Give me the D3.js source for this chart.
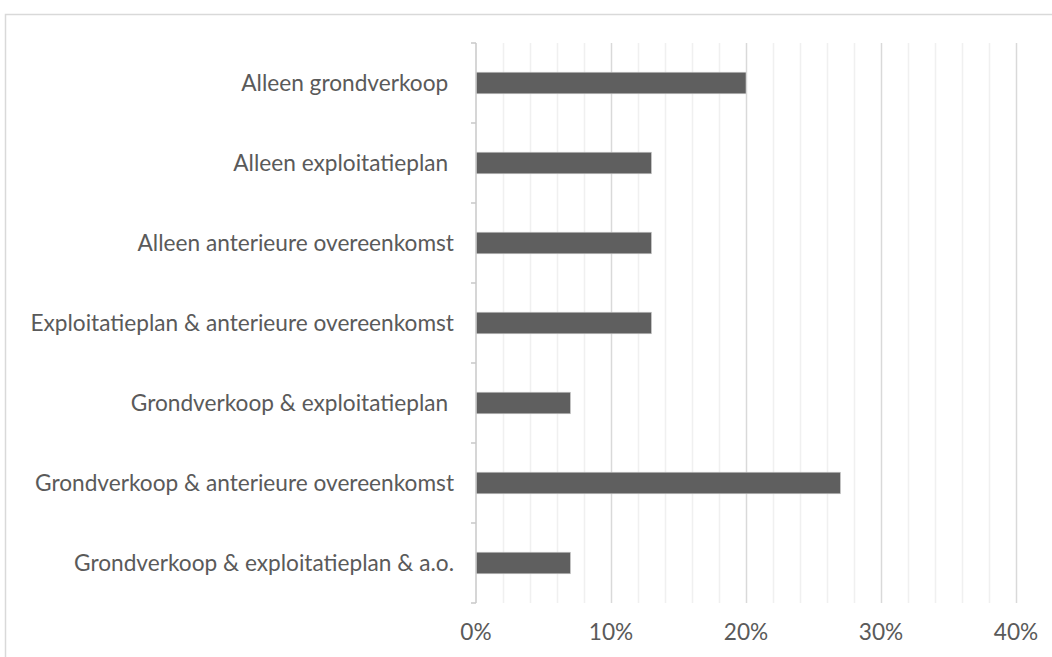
<!DOCTYPE html>
<html>
<head>
<meta charset="utf-8">
<script src="https://cdn.jsdelivr.net/npm/d3@7"></script>
<style>
  html, body { margin: 0; padding: 0; background: #fff; }
  svg { display: block; }
  text { font-family: Lato, "Open Sans", "DejaVu Sans", sans-serif; fill: #5a5a5a; white-space: pre; }
</style>
</head>
<body>
<svg id="chart" width="1052" height="657"></svg>
<script>
// Instrument combinations (top to bottom) and their share of cases
const categories = [
  "Alleen grondverkoop ",
  "Alleen exploitatieplan ",
  "Alleen anterieure overeenkomst",
  "Exploitatieplan & anterieure overeenkomst",
  "Grondverkoop & exploitatieplan ",
  "Grondverkoop & anterieure overeenkomst",
  "Grondverkoop & exploitatieplan & a.o."
];
const values = [0.20, 0.13, 0.13, 0.13, 0.07, 0.27, 0.07];
const majorTicks = [0, 0.1, 0.2, 0.3, 0.4];
const minorTicks = d3.range(0, 41, 2).map(d => d / 100);

const svg = d3.select("#chart");
const margin = { left: 476, right: 36, top: 43, bottom: 54 };
const W = 1052, H = 657;

// Chart frame (only top and left edges fall inside the page)
svg.append("path")
  .attr("d", `M5.5,${H} V14.5 H${W}`)
  .attr("fill", "none")
  .attr("stroke", "#d9d9d9")
  .attr("stroke-width", 1.5);

const x = d3.scaleLinear().domain([0, 0.4]).range([margin.left, W - margin.right]);
const y = d3.scaleBand().domain(categories).range([margin.top, H - margin.bottom]).paddingInner(0.73).paddingOuter(0.365);

// Minor then major vertical gridlines
svg.append("g").selectAll("line").data(minorTicks.filter(d => !majorTicks.some(m => Math.abs(m - d) < 1e-9)))
  .join("line")
  .attr("x1", d => Math.round(x(d)) + 0.5).attr("x2", d => Math.round(x(d)) + 0.5)
  .attr("y1", margin.top).attr("y2", H - margin.bottom)
  .attr("stroke", "#f0f0f0").attr("stroke-width", 1.5);
svg.append("g").selectAll("line").data(majorTicks.slice(1))
  .join("line")
  .attr("x1", d => Math.round(x(d)) + 0.5).attr("x2", d => Math.round(x(d)) + 0.5)
  .attr("y1", margin.top).attr("y2", H - margin.bottom)
  .attr("stroke", "#d9d9d9").attr("stroke-width", 1.5);

// Bars
svg.append("g").selectAll("rect").data(values)
  .join("rect")
  .attr("x", x(0))
  .attr("y", (d, i) => y(categories[i]))
  .attr("width", d => x(d) - x(0))
  .attr("height", y.bandwidth())
  .attr("fill", "#5f5f5f")
  .attr("stroke", "#d0d0d0")
  .attr("stroke-width", 0.6);

// Category axis with tick marks at band boundaries
const yAxis = svg.append("g");
const step = y.step();
const boundaries = d3.range(categories.length + 1).map(i => margin.top + i * step);
yAxis.append("line")
  .attr("x1", x(0)).attr("x2", x(0))
  .attr("y1", margin.top).attr("y2", H - margin.bottom)
  .attr("stroke", "#c8c8c8").attr("stroke-width", 1.5);
yAxis.selectAll("line.tick").data(boundaries)
  .join("line").attr("class", "tick")
  .attr("x1", x(0) - 5).attr("x2", x(0))
  .attr("y1", d => d).attr("y2", d => d)
  .attr("stroke", "#c8c8c8").attr("stroke-width", 1.5);

const labels = yAxis.selectAll("text").data(categories)
  .join("text")
  .attr("x", 454)
  .attr("y", d => y(d) + y.bandwidth() / 2)
  .attr("dy", "0.35em")
  .attr("text-anchor", "end")
  .style("font-size", "18px")
  .text(d => d);

// Size category text so the longest label spans the available width
const longest = labels.filter(d => d.startsWith("Exploitatieplan")).node();
const fs = 18 * 424 / longest.getComputedTextLength();
labels.style("font-size", fs + "px");

// Value axis labels
svg.append("g").selectAll("text").data(majorTicks)
  .join("text")
  .attr("x", d => x(d))
  .attr("y", 640)
  .attr("text-anchor", "middle")
  .style("font-size", fs + "px")
  .text(d3.format(".0%"));
</script>
</body>
</html>
